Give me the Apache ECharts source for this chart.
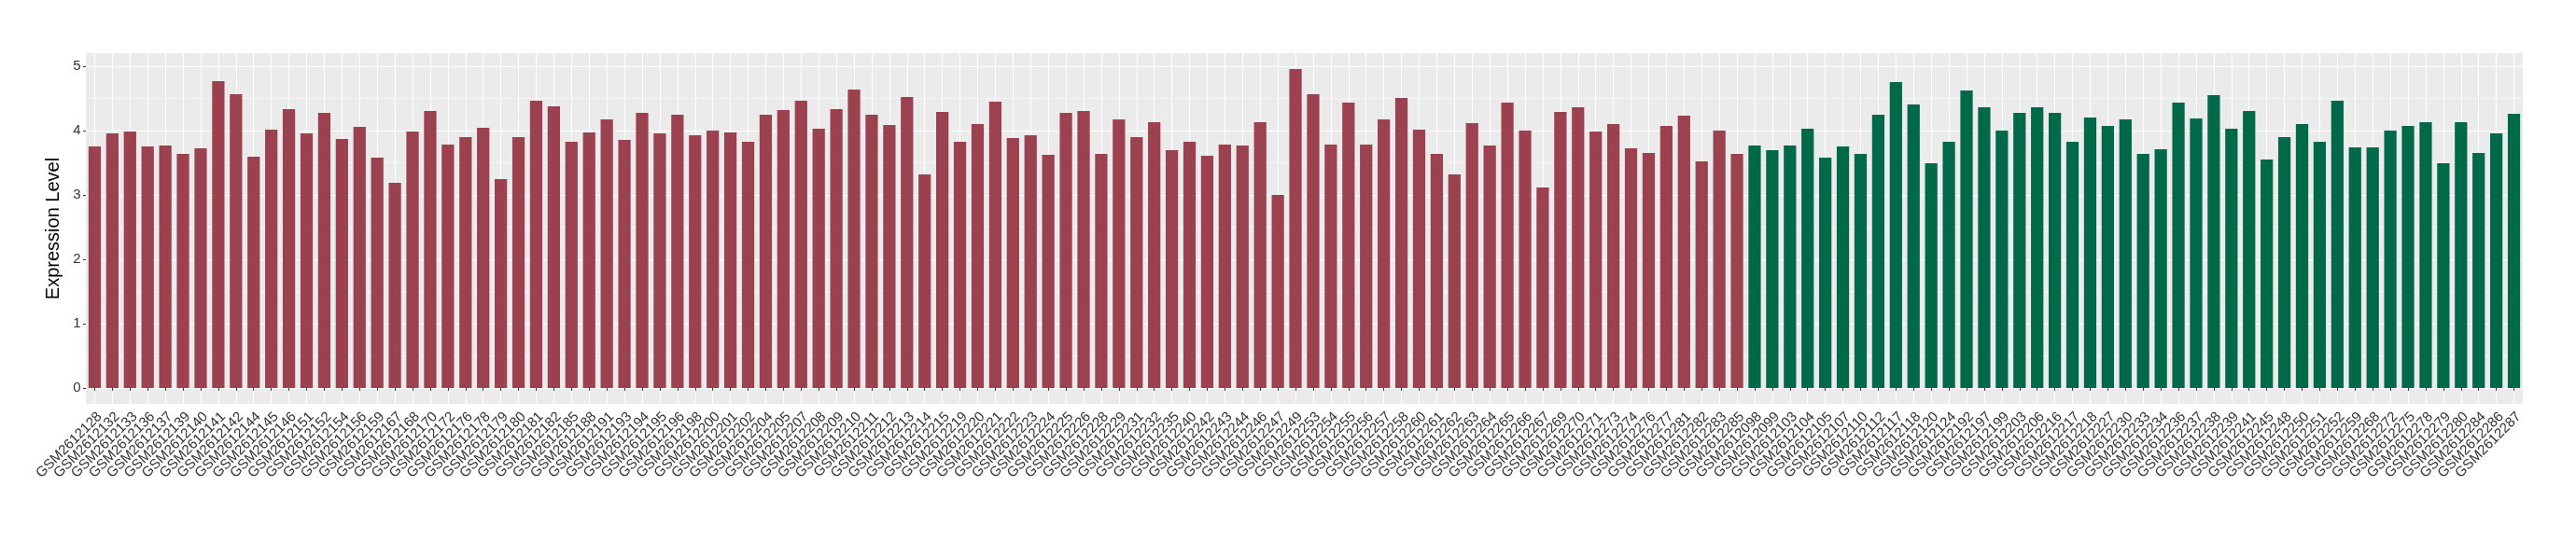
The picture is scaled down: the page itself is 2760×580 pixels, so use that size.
<!DOCTYPE html>
<html>
<head>
<meta charset="utf-8">
<script src="https://cdn.jsdelivr.net/npm/echarts@6/dist/echarts.min.js"></script>
<style>
  html, body { margin: 0; padding: 0; background: #fff; }
  #expr_chart { width: 2760px; height: 580px; }
</style>
</head>
<body>
<div id="expr_chart"></div>
<script>
// sample ids (suffix after GSM2612) and expression values
var redLabels = ['128','132','133','136','137','139','140','141','142','144',
  '145','146','151','152','154','156','159','167','168','170',
  '172','176','178','179','180','181','182','185','188','191',
  '193','194','195','196','198','200','201','202','204','205',
  '207','208','209','210','211','212','213','214','215','219',
  '220','221','222','223','224','225','226','228','229','231',
  '232','235','240','242','243','244','246','247','249','253',
  '254','255','256','257','258','260','261','262','263','264',
  '265','266','267','269','270','271','273','274','276','277',
  '281','282','283','285']
var redValues = [3.754, 3.957, 3.986, 3.754, 3.768, 3.638, 3.725, 4.768, 4.565, 3.594,
  4.014, 4.333, 3.957, 4.275, 3.870, 4.058, 3.580, 3.188, 3.986, 4.304,
  3.783, 3.899, 4.043, 3.246, 3.899, 4.464, 4.377, 3.826, 3.971, 4.174,
  3.855, 4.275, 3.957, 4.246, 3.928, 4.000, 3.971, 3.826, 4.246, 4.319,
  4.464, 4.029, 4.333, 4.638, 4.246, 4.087, 4.522, 3.319, 4.290, 3.826,
  4.101, 4.449, 3.884, 3.928, 3.623, 4.275, 4.304, 3.638, 4.174, 3.899,
  4.130, 3.696, 3.826, 3.609, 3.783, 3.768, 4.130, 3.000, 4.957, 4.565,
  3.783, 4.435, 3.783, 4.174, 4.507, 4.014, 3.638, 3.319, 4.116, 3.768,
  4.435, 4.000, 3.116, 4.290, 4.362, 3.986, 4.101, 3.725, 3.652, 4.072,
  4.232, 3.522, 4.000, 3.638]
var greenLabels = ['098','099','103','104','105','107','110','112','117','118',
  '120','124','192','197','199','203','206','216','217','218',
  '227','230','233','234','236','237','238','239','241','245',
  '248','250','251','252','259','268','272','275','278','279',
  '280','284','286','287']
var greenValues = [3.768, 3.696, 3.768, 4.029, 3.580, 3.754, 3.638, 4.246, 4.754, 4.406,
  3.493, 3.826, 4.623, 4.362, 4.000, 4.275, 4.362, 4.275, 3.826, 4.203,
  4.072, 4.174, 3.638, 3.710, 4.435, 4.188, 4.551, 4.029, 4.304, 3.551,
  3.899, 4.101, 3.826, 4.464, 3.739, 3.739, 4.000, 4.072, 4.130, 3.493,
  4.130, 3.652, 3.957, 4.261]
var yTicks = [0, 1, 2, 3, 4, 5]

var redColor = '#9B4150'
var greenColor = '#00694A'
var fontFam = 'Liberation Sans'

var categories = redLabels.concat(greenLabels).map(function (s) { return 'GSM2612' + s })
var barData = []
redValues.forEach(function (v) { barData.push({ value: v, itemStyle: { color: redColor } }) })
greenValues.forEach(function (v) { barData.push({ value: v, itemStyle: { color: greenColor } }) })

// ggplot style 5% expansion of the value range
var allValues = redValues.concat(greenValues)
var yMax = Math.max.apply(null, allValues)

var option = {
  backgroundColor: '#ffffff',
  animation: false,
  grid: {
    left: 92,
    right: 57,
    top: 57,
    bottom: 147,
    show: true,
    backgroundColor: '#EBEBEB',
    borderWidth: 0
  },
  xAxis: {
    type: 'category',
    data: categories,
    axisLine: { show: false },
    axisTick: {
      show: true,
      alignWithLabel: true,
      interval: 0,
      length: 3,
      lineStyle: { color: '#333333', width: 1 }
    },
    splitLine: {
      show: true,
      alignWithLabel: true,
      interval: 0,
      lineStyle: { color: '#ffffff', width: 1.1 }
    },
    axisLabel: {
      interval: 0,
      rotate: 45,
      align: 'right',
      verticalAlign: 'top',
      margin: 6,
      fontSize: 15,
      fontFamily: fontFam,
      color: '#333333'
    }
  },
  yAxis: {
    type: 'value',
    min: -0.05 * yMax,
    max: 1.05 * yMax,
    splitNumber: 5,
    name: 'Expression Level',
    nameLocation: 'middle',
    nameRotate: 90,
    nameGap: 19,
    nameTextStyle: { fontSize: 20, fontFamily: fontFam, color: '#000000' },
    axisLine: { show: false },
    axisTick: {
      show: true,
      length: 3,
      customValues: yTicks,
      lineStyle: { color: '#333333', width: 1 }
    },
    axisLabel: {
      customValues: yTicks,
      margin: 5.5,
      fontSize: 15,
      fontFamily: fontFam,
      color: '#333333'
    },
    splitLine: { show: true, lineStyle: { color: '#ffffff', width: 1.1 } },
    minorTick: { show: false, splitNumber: 2 },
    minorSplitLine: { show: true, lineStyle: { color: '#ffffff', width: 0.55 } }
  },
  series: [
    {
      type: 'bar',
      data: barData,
      barWidth: '70%'
    }
  ]
}

var expr_chart = echarts.init(document.getElementById('expr_chart'))
expr_chart.setOption(option)
</script>
</body>
</html>
